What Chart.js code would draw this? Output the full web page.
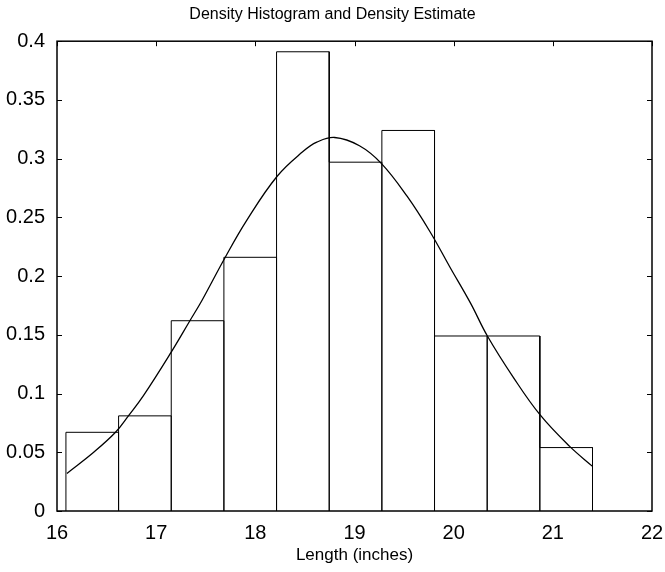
<!DOCTYPE html>
<html>
<head>
<meta charset="utf-8">
<script src="https://cdn.jsdelivr.net/npm/chart.js@4"></script>
<style>
  html, body { margin: 0; padding: 0; background: #fff; }
  #wrap { width: 665px; height: 572px; }
</style>
</head>
<body>
<div id="wrap"><canvas id="histChart" width="665" height="572"></canvas></div>
<script>
// histogram bins (inches) and their density heights
const binEdges = [16.09, 16.621, 17.152, 17.683, 18.214, 18.745, 19.276, 19.807, 20.338, 20.869, 21.40];
const binHeights = [0.067, 0.081, 0.162, 0.216, 0.391, 0.297, 0.324, 0.149, 0.149, 0.054];

// kernel density estimate, sampled along the curve
const curveX = [16.10, 16.37, 16.59, 16.72, 16.87, 17.15, 17.34, 17.46, 17.69, 17.91, 18.22, 18.48, 18.62,
                18.80, 19.05, 19.27, 19.53, 19.76, 19.96, 20.17, 20.34, 20.60, 20.87, 21.17, 21.40];
const curveY = [0.032, 0.050, 0.067, 0.081, 0.098, 0.135, 0.162, 0.179, 0.215, 0.247, 0.285, 0.306, 0.314,
                0.318, 0.311, 0.296, 0.268, 0.238, 0.208, 0.177, 0.149, 0.114, 0.082, 0.055, 0.038];

const FONT = '"Liberation Sans", Arial, Helvetica, sans-serif';

// outline of each bar: up the left edge, across the top, down the right edge
const outline = [];
binHeights.forEach((h, i) => {
    outline.push({x: binEdges[i], y: 0}, {x: binEdges[i], y: h},
                 {x: binEdges[i + 1], y: h}, {x: binEdges[i + 1], y: 0});
});
const curve = curveX.map((x, i) => ({x: x, y: curveY[i]}));

// box around the axes with inward tick marks
const frameTicks = {
    id: 'frameTicks',
    afterDatasetsDraw(chart) {
        const {ctx, chartArea: a, scales: {x, y}} = chart;
        ctx.save();
        ctx.strokeStyle = '#000';
        ctx.lineWidth = 1;
        ctx.beginPath();
        x.ticks.forEach(t => {
            const px = Math.round(x.getPixelForValue(t.value)) + 0.5;
            ctx.moveTo(px, a.top);
            ctx.lineTo(px, a.top + 5);
        });
        y.ticks.forEach(t => {
            const py = Math.round(y.getPixelForValue(t.value)) + 0.5;
            ctx.moveTo(a.left, py);
            ctx.lineTo(a.left + 5, py);
            ctx.moveTo(a.right, py);
            ctx.lineTo(a.right - 5, py);
        });
        ctx.stroke();
        ctx.lineWidth = 1.5;
        ctx.strokeRect(a.left, a.top, a.right - a.left, a.bottom - a.top);
        ctx.restore();
    }
};

const ctx = document.getElementById('histChart').getContext('2d');
const chart = new Chart(ctx, {
    type: 'line',
    data: {
        datasets: [{
            label: 'Density histogram',
            data: outline,
            borderColor: '#000',
            borderWidth: 1,
            pointRadius: 0,
            tension: 0,
            fill: false,
            clip: false
        }, {
            label: 'Density estimate',
            data: curve,
            borderColor: '#000',
            borderWidth: 1.3,
            pointRadius: 0,
            tension: 0.4,
            fill: false
        }]
    },
    options: {
        responsive: false,
        animation: false,
        layout: { padding: 0 },
        plugins: {
            legend: { display: false },
            tooltip: { enabled: false },
            title: {
                display: true,
                text: 'Density Histogram and Density Estimate',
                color: '#000',
                font: { family: FONT, size: 16, weight: 'normal' },
                padding: { top: 5, bottom: 17 }
            }
        },
        scales: {
            x: {
                type: 'linear',
                min: 16,
                max: 22,
                border: { display: false },
                grid: { display: false, drawTicks: false },
                ticks: {
                    stepSize: 1,
                    padding: 10,
                    color: '#000',
                    font: { family: FONT, size: 20 }
                },
                title: {
                    display: true,
                    text: 'Length (inches)',
                    color: '#000',
                    font: { family: FONT, size: 17 },
                    padding: { top: 0, bottom: 6 }
                },
                afterFit: s => {
                    s.height = 61;
                    s.paddingLeft = 0;
                    s.paddingRight = 13;
                }
            },
            y: {
                min: 0,
                max: 0.4,
                border: { display: false },
                grid: { display: false, drawTicks: false },
                ticks: {
                    stepSize: 0.05,
                    padding: 12,
                    color: '#000',
                    font: { family: FONT, size: 20 },
                    callback: v => String(parseFloat(v.toFixed(2)))
                },
                afterFit: s => { s.width = 57; }
            }
        }
    },
    plugins: [frameTicks]
});
</script>
</body>
</html>
